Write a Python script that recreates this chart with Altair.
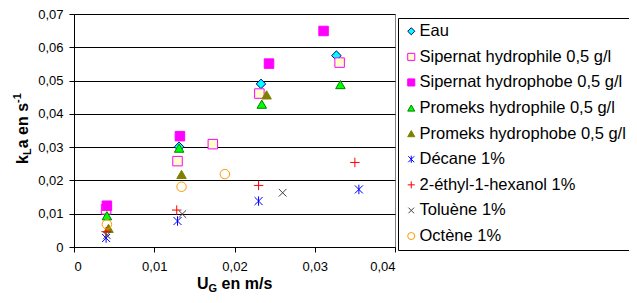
import altair as alt
import pandas as pd

FONT = "Liberation Sans"

series = [
    "Eau",
    "Sipernat hydrophile 0,5 g/l",
    "Sipernat hydrophobe 0,5 g/l",
    "Promeks hydrophile 0,5 g/l",
    "Promeks hydrophobe 0,5 g/l",
    "Décane 1%",
    "2-éthyl-1-hexanol 1%",
    "Toluène 1%",
    "Octène 1%",
]

eau_x = [0.0040, 0.0131, 0.0233, 0.0327]
eau_y = [0.0105, 0.0301, 0.0490, 0.0575]
sip_hphil_x = [0.0040, 0.0129, 0.0173, 0.0231, 0.0331]
sip_hphil_y = [0.0113, 0.0258, 0.0309, 0.0461, 0.0554]
sip_hphob_x = [0.0041, 0.0132, 0.0243, 0.0311]
sip_hphob_y = [0.0124, 0.0333, 0.0551, 0.0649]
prom_hphil_x = [0.0041, 0.0131, 0.0234, 0.0332]
prom_hphil_y = [0.0094, 0.0297, 0.0429, 0.0488]
prom_hphob_x = [0.0043, 0.0134, 0.0240]
prom_hphob_y = [0.0056, 0.0218, 0.0457]
decane_x = [0.0040, 0.0129, 0.0230, 0.0355]
decane_y = [0.0027, 0.0078, 0.0138, 0.0173]
ethyl_x = [0.0040, 0.0128, 0.0230, 0.0350]
ethyl_y = [0.0046, 0.0111, 0.0185, 0.0254]
toluene_x = [0.0041, 0.0135, 0.0260]
toluene_y = [0.0035, 0.0099, 0.0163]
octene_x = [0.0041, 0.0134, 0.0188]
octene_y = [0.0068, 0.0181, 0.0219]

xs_all = [eau_x, sip_hphil_x, sip_hphob_x, prom_hphil_x, prom_hphob_x,
          decane_x, ethyl_x, toluene_x, octene_x]
ys_all = [eau_y, sip_hphil_y, sip_hphob_y, prom_hphil_y, prom_hphob_y,
          decane_y, ethyl_y, toluene_y, octene_y]

x_ticks = [0, 0.01, 0.02, 0.03, 0.04]
y_ticks = [0, 0.01, 0.02, 0.03, 0.04, 0.05, 0.06, 0.07]

rows = []
for name, xs, ys in zip(series, xs_all, ys_all):
    for xv, yv in zip(xs, ys):
        rows.append({"serie": name, "ug": xv, "kla": yv})
df = pd.DataFrame(rows)

ASTER = "M0,-1L0,1M-0.85,-0.85L0.85,0.85M-0.85,0.85L0.85,-0.85"
PLUS = "M-1,0L1,0M0,-1L0,1"
XMARK = "M-0.8,-0.8L0.8,0.8M-0.8,0.8L0.8,-0.8"

shapes = ["diamond", "square", "square", "triangle-up", "triangle-up",
          ASTER, PLUS, XMARK, "circle"]
strokes = ["#000080", "#FF00FF", "#FF00FF", "#008000", "#808000",
           "#0000FF", "#FF0000", "#404040", "#FF9900"]
fills = ["#00FFFF", "#FFFFCC", "#FF00FF", "#00FF00", "#808000",
         "transparent", "transparent", "transparent", "transparent"]

label_expr = "datum.value == 0 ? '0' : replace(format(datum.value, '.2f'), '.', ',')"

points = alt.Chart(df).mark_point(size=90, strokeWidth=1, opacity=1).encode(
    x=alt.X("ug:Q",
            scale=alt.Scale(domain=[0, 0.04], nice=False, zero=True),
            axis=alt.Axis(values=x_ticks, labelExpr=label_expr, grid=False,
                          title=None, tickSize=5, labelPadding=8)),
    y=alt.Y("kla:Q",
            scale=alt.Scale(domain=[0, 0.07], nice=False, zero=True),
            axis=alt.Axis(values=y_ticks, labelExpr=label_expr, grid=True,
                          title=None, tickSize=5, labelPadding=6)),
    shape=alt.Shape("serie:N", scale=alt.Scale(domain=series, range=shapes),
                    legend=alt.Legend(title=None)),
    stroke=alt.Stroke("serie:N", scale=alt.Scale(domain=series, range=strokes),
                      legend=alt.Legend(title=None)),
    fill=alt.Fill("serie:N", scale=alt.Scale(domain=series, range=fills),
                  legend=alt.Legend(title=None)),
)


def txt(s, x, y, size, angle=0):
    return alt.Chart(alt.Data(values=[{}])).mark_text(
        text=s, fontSize=size, fontWeight="bold", font=FONT, align="left",
        baseline="alphabetic", angle=angle, color="black"
    ).encode(x=alt.value(x), y=alt.value(y))


# X title: U_G en m/s  (view coords)
xt = [
    txt("U", 122.9, 275, 16),
    txt("G", 134.5, 278, 11),
    txt("en m/s", 147.6, 275, 16),
]
# Y title: k_L a en s^-1 (rotated)
yt = [
    txt("k", -46, 149.9, 16, 270),
    txt("L", -43, 141.0, 11, 270),
    txt("a en s", -46, 134.3, 16, 270),
    txt("-1", -53, 88.9, 11, 270),
]

chart = alt.layer(points, *xt, *yt).properties(
    width=321, height=233,
    autosize="none",
    padding={"left": 66, "top": 6, "right": 234, "bottom": 48},
).configure_view(
    stroke="#808080", strokeWidth=1
).configure_axis(
    labelFont=FONT, labelFontSize=13, labelColor="black",
    domainColor="black", tickColor="black", gridColor="black",
    gridOpacity=1, gridWidth=1, domainWidth=1, tickWidth=1,
).configure_legend(
    orient="none", legendX=324, legendY=4,
    strokeColor="black", fillColor="white", padding=5,
    labelFont=FONT, labelFontSize=16.5, labelColor="black", labelLimit=0,
    labelOffset=0, rowPadding=8.6, symbolSize=50, symbolStrokeWidth=1,
)

chart.save("out.html", embed_options={"renderer": "svg", "actions": False})
